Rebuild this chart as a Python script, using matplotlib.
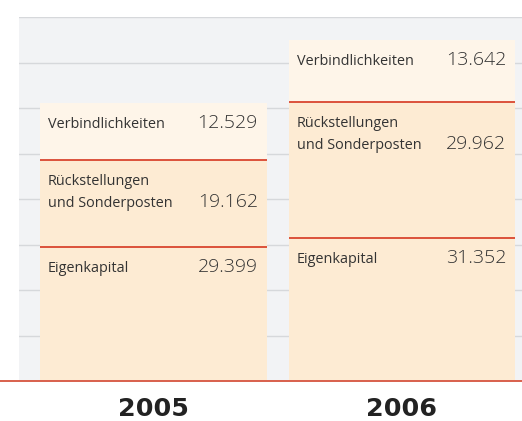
import matplotlib
matplotlib.use("Agg")
import matplotlib.pyplot as plt
from matplotlib import transforms

# ---- data ----
years = ["2005", "2006"]
eigenkapital = [29399, 31352]
rueckstellungen = [19162, 29962]
verbindlichkeiten = [12529, 13642]
segment_labels = ["Eigenkapital", "Rückstellungen\nund Sonderposten", "Verbindlichkeiten"]
value_labels = [["29.399", "31.352"], ["19.162", "29.962"], ["12.529", "13.642"]]

# ---- style ----
FONT = "Open Sans"
plt.rcParams["font.family"] = [FONT, "DejaVu Sans"]
bg = "#f2f3f5"
grid_c = "#d6d8db"
seg_colors = ["#fdebd3", "#fdebd3", "#fef5e9"]
red = "#d9452f"
txt = "#333333"

W, H, DPI = 522, 421, 100
fig = plt.figure(figsize=(W / DPI, H / DPI), dpi=DPI)
left_px, right_px, top_px, bottom_px = 19, 522, 17, 381
ax = fig.add_axes([left_px / W, (H - bottom_px) / H,
                   (right_px - left_px) / W, (bottom_px - top_px) / H])
ax.set_facecolor(bg)
for s in ax.spines.values():
    s.set_visible(False)

x = [0, 1]
width = 0.913
ax.set_xlim(-0.541, 1.483)
ax.set_ylim(0, 80000)
ax.set_yticks(range(0, 80001, 10000))
ax.yaxis.grid(True, color=grid_c, linewidth=1.0)
ax.set_axisbelow(True)
ax.tick_params(axis="y", left=False, labelleft=False)
ax.tick_params(axis="x", bottom=False, labelbottom=False)
ax.set_xticks(x)

# year labels below the axis
ytrans = transforms.blended_transform_factory(ax.transData, fig.transFigure)
for i, yr in enumerate(years):
    ax.text(x[i], (H - 416.5) / H, yr, transform=ytrans, ha="center",
            va="baseline", fontsize=18.3, fontweight="bold",
            family="DejaVu Sans", color="#222222")

series = [eigenkapital, rueckstellungen, verbindlichkeiten]
bottoms = [0, 0]
px = 72.0 / DPI  # points per pixel
for si, vals in enumerate(series):
    ax.bar(x, vals, width=width, bottom=bottoms, color=seg_colors[si],
           linewidth=0, zorder=2)
    for i in range(len(x)):
        top = bottoms[i] + vals[i]
        lx = x[i] - width / 2
        rx = x[i] + width / 2
        if si < len(series) - 1:
            ax.plot([lx, rx], [top, top], color=red, linewidth=1.3,
                    solid_capstyle="butt", zorder=3)
        lines = segment_labels[si].split("\n")
        for li, line in enumerate(lines):
            ax.annotate(line, xy=(lx, top), xytext=(8 * px, -(25 + 21.7 * li) * px),
                        textcoords="offset points", ha="left", va="baseline",
                        fontsize=10.4, color=txt, zorder=4)
        ax.annotate(value_labels[si][i], xy=(rx, top),
                    xytext=(-9 * px, -(25 + 21.7 * (len(lines) - 1)) * px),
                    textcoords="offset points", ha="right", va="baseline",
                    fontsize=14, fontweight="light", color=txt, zorder=4)
    bottoms = [bottoms[i] + vals[i] for i in range(len(x))]

# baseline red line across full width
ax.axhline(0, xmin=-left_px / (right_px - left_px), xmax=1, color="#d8604c",
           linewidth=1.4, clip_on=False, zorder=5)

fig.savefig("out.png", dpi=DPI)
